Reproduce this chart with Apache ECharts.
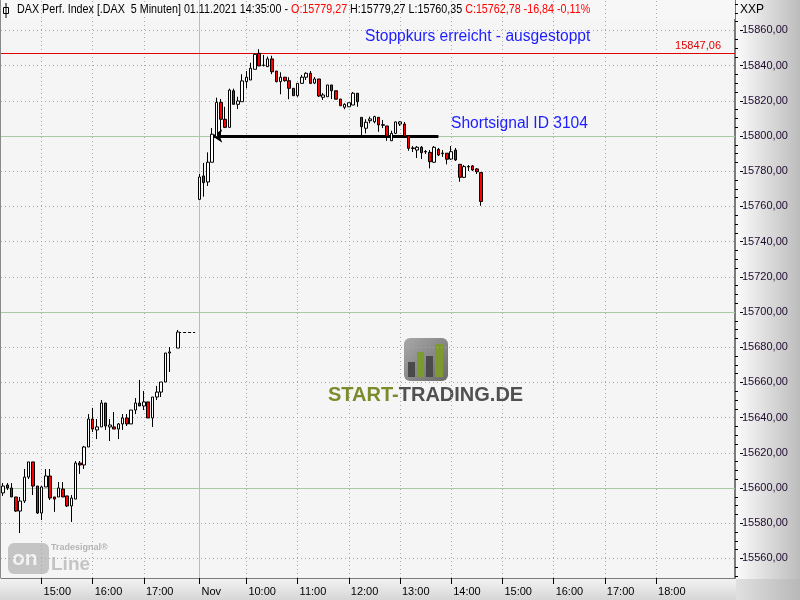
<!DOCTYPE html>
<html><head><meta charset="utf-8">
<script src="https://cdn.jsdelivr.net/npm/echarts@6/dist/echarts.min.js"></script>
<style>html,body{margin:0;padding:0;background:#f5f5f5}#c{width:800px;height:600px}</style>
</head><body><div id="c"></div>
<script>
// ---- sessions (5-minute bars, bar-end time labels) ----
const sessionDates = ['29.10', '01.11'];
const sessionFirstBar = ['14:15', '09:05'];
const sessionSlots = [46, 126];

// ---- candles [open, close, low, high] ----
const day1Candles = [
  [15597.2, 15601.1, 15595.5, 15602.8],
  [15601.7, 15600.0, 15598.9, 15602.8],
  [15600.0, 15594.9, 15594.9, 15602.8],
  [15594.9, 15586.9, 15586.4, 15594.9],
  [15586.9, 15592.6, 15574.4, 15594.9],
  [15592.6, 15606.2, 15591.5, 15610.8],
  [15606.2, 15614.8, 15605.1, 15614.8],
  [15614.8, 15601.1, 15596.0, 15614.8],
  [15601.1, 15585.8, 15585.2, 15601.1],
  [15585.8, 15600.6, 15581.8, 15601.1],
  [15600.6, 15606.8, 15600.6, 15610.8],
  [15606.8, 15594.3, 15593.2, 15610.8],
  [15594.9, 15593.7, 15586.4, 15594.9],
  [15594.9, 15600.0, 15594.9, 15603.4],
  [15599.4, 15594.9, 15594.9, 15603.4],
  [15595.5, 15589.8, 15589.2, 15595.5],
  [15589.8, 15594.3, 15580.7, 15596.0],
  [15593.7, 15614.2, 15593.7, 15615.3],
  [15614.2, 15613.1, 15608.0, 15615.3],
  [15613.1, 15623.3, 15610.8, 15623.9],
  [15623.3, 15639.2, 15623.3, 15642.0],
  [15639.2, 15633.5, 15631.8, 15645.5],
  [15633.0, 15634.7, 15627.8, 15639.2],
  [15634.7, 15648.3, 15634.7, 15650.0],
  [15648.3, 15635.2, 15633.0, 15648.3],
  [15634.7, 15635.8, 15626.7, 15639.2],
  [15634.7, 15633.5, 15633.5, 15643.2],
  [15633.5, 15636.4, 15627.8, 15636.9],
  [15636.4, 15639.8, 15633.0, 15642.0],
  [15639.8, 15636.4, 15635.2, 15642.0],
  [15636.4, 15644.3, 15636.4, 15644.3],
  [15644.3, 15648.3, 15642.0, 15651.1],
  [15648.3, 15646.6, 15646.6, 15661.4],
  [15646.6, 15648.9, 15644.3, 15655.1],
  [15648.9, 15639.8, 15639.8, 15648.9],
  [15639.8, 15651.7, 15634.7, 15651.7],
  [15651.7, 15654.5, 15650.0, 15658.0],
  [15654.5, 15660.2, 15651.7, 15660.2],
  [15660.2, 15676.7, 15660.2, 15676.7],
  [15676.7, 15677.3, 15665.9, 15680.1],
  '-',
  [15679.5, 15688.6, 15679.5, 15689.8]
];
const day2Candles = [
  [15764.0, 15776.7, 15763.6, 15778.4],
  [15777.3, 15773.5, 15765.5, 15784.7],
  [15773.9, 15785.1, 15771.6, 15790.7],
  [15785.1, 15801.0, 15785.1, 15804.5],
  [15799.6, 15819.1, 15799.6, 15821.8],
  [15819.1, 15809.5, 15799.6, 15821.0],
  [15809.5, 15804.9, 15804.5, 15816.6],
  [15804.9, 15826.1, 15804.9, 15826.9],
  [15825.7, 15818.0, 15818.0, 15826.9],
  [15818.0, 15819.9, 15815.3, 15822.3],
  [15819.5, 15831.3, 15819.5, 15835.1],
  [15830.9, 15833.4, 15827.1, 15836.9],
  [15831.8, 15838.5, 15831.8, 15841.6],
  [15837.9, 15846.4, 15837.9, 15847.0],
  [15847.0, 15839.8, 15839.8, 15849.3],
  [15840.1, 15840.3, 15839.5, 15846.0],
  [15839.4, 15843.8, 15839.4, 15845.1],
  [15843.8, 15836.5, 15835.1, 15845.6],
  [15836.9, 15830.9, 15830.5, 15836.9],
  [15830.9, 15833.4, 15823.7, 15836.2],
  [15833.4, 15831.4, 15830.9, 15833.4],
  [15831.4, 15827.1, 15820.9, 15833.4],
  [15827.1, 15822.9, 15822.9, 15827.1],
  [15822.9, 15829.9, 15822.3, 15829.9],
  [15829.9, 15833.4, 15829.9, 15834.7],
  [15833.4, 15835.6, 15831.8, 15836.2],
  [15835.6, 15829.9, 15829.5, 15836.9],
  [15830.1, 15832.4, 15829.5, 15833.5],
  [15832.4, 15822.7, 15822.2, 15832.4],
  [15822.0, 15823.3, 15820.5, 15824.4],
  [15822.3, 15829.0, 15822.3, 15829.0],
  [15829.0, 15825.7, 15821.0, 15829.0],
  [15825.7, 15820.9, 15820.9, 15825.7],
  [15821.0, 15817.2, 15817.2, 15821.0],
  [15816.3, 15818.0, 15815.2, 15818.6],
  [15816.6, 15818.9, 15816.6, 15818.9],
  [15817.6, 15824.3, 15817.6, 15825.0],
  [15824.3, 15819.5, 15816.6, 15824.3],
  [15810.6, 15805.3, 15800.0, 15810.6],
  [15804.4, 15807.8, 15801.5, 15809.5],
  [15808.7, 15809.7, 15807.2, 15811.0],
  [15808.1, 15811.0, 15807.2, 15811.5],
  [15810.6, 15806.3, 15802.4, 15810.6],
  [15806.4, 15806.1, 15804.5, 15809.1],
  [15805.7, 15800.0, 15797.2, 15805.7],
  [15797.3, 15801.5, 15797.2, 15803.0],
  [15801.5, 15808.0, 15801.1, 15808.1],
  [15806.8, 15808.0, 15805.7, 15808.5],
  [15806.8, 15800.0, 15800.0, 15808.0],
  [15800.0, 15793.0, 15791.6, 15800.0],
  [15793.2, 15792.9, 15790.9, 15794.3],
  [15792.0, 15793.6, 15787.5, 15794.3],
  [15793.6, 15790.5, 15786.9, 15794.3],
  [15791.2, 15790.9, 15789.8, 15792.0],
  [15790.7, 15785.4, 15781.6, 15792.0],
  [15785.1, 15793.6, 15784.7, 15794.3],
  [15792.4, 15789.2, 15788.6, 15793.2],
  [15790.3, 15790.0, 15788.1, 15792.0],
  [15790.2, 15786.8, 15783.9, 15790.2],
  [15786.9, 15791.1, 15786.4, 15794.3],
  [15792.0, 15786.4, 15785.8, 15793.2],
  [15783.9, 15776.5, 15774.0, 15783.9],
  [15776.5, 15782.6, 15776.1, 15783.5],
  [15782.7, 15782.4, 15780.1, 15783.5],
  [15783.0, 15780.7, 15780.1, 15783.5],
  [15781.3, 15779.7, 15778.4, 15781.8],
  [15779.27, 15762.78, 15760.35, 15779.27]
];

// ---- axis ticks / annotations ----
const yTicks = [15560, 15580, 15600, 15620, 15640, 15660, 15680, 15700, 15720, 15740, 15760, 15780, 15800, 15820, 15840, 15860];
const yGreenLines = [15600, 15700, 15800];
const xTickLabels = ['29.10 15:00', '29.10 16:00', '29.10 17:00', '01.11 09:05', '01.11 10:00', '01.11 11:00', '01.11 12:00',
  '01.11 13:00', '01.11 14:00', '01.11 15:00', '01.11 16:00', '01.11 17:00', '01.11 18:00'];
const dayStartTick = '01.11 09:05';
const dayStartText = 'Nov';
const stopLevel = 15847.06;
const signalLevel = 15800;
const signalFrom = '01.11 09:20';
const signalTo = '01.11 13:45';
const stopText = 'Stoppkurs erreicht - ausgestoppt';
const signalText = 'Shortsignal ID 3104';
const headerTitle = 'DAX Perf. Index [.DAX  5 Minuten] 01.11.2021 14:35:00 - ';
const headerChange = '-16,84 -0,11%';
const yMin = 15548.86, yMax = 15877.27;

// ---- build ----
function buildSession(date, first, n) {
  let [h, m] = first.split(':').map(Number);
  const out = [];
  for (let i = 0; i < n; i++) {
    out.push(date + ' ' + String(h).padStart(2, '0') + ':' + String(m).padStart(2, '0'));
    m += 5; if (m >= 60) { m -= 60; h++; }
  }
  return out;
}
let categories = [];
sessionDates.forEach((d, i) => { categories = categories.concat(buildSession(d, sessionFirstBar[i], sessionSlots[i])); });
function pad(arr, n) { const a = arr.slice(); while (a.length < n) a.push('-'); return a; }
const candles = pad(day1Candles, sessionSlots[0]).concat(pad(day2Candles, sessionSlots[1]));
const fmt = v => v.toFixed(2).replace('.', ',');
const lastDay1Idx = day1Candles.length - 1;
const day1Close = day1Candles[lastDay1Idx][1];
const last = day2Candles[day2Candles.length - 1];
const minorTicks = [];
for (let v = 15550; v <= 15875; v += 5) if (v % 20 !== 0) minorTicks.push(v);

const fontFam = 'Liberation Sans, Arial, sans-serif';
const dotted = { color: '#a8a8a8', width: 1, type: [1, 3] };
const green = { color: '#a9c9a4', width: 1, type: 'solid' };
const isTick = (idx) => xTickLabels.indexOf(categories[idx]) >= 0;

const chart = echarts.init(document.getElementById('c'), null, { renderer: 'canvas' });
chart.setOption({
  animation: false,
  backgroundColor: '#f5f5f5',
  grid: { left: 1, right: 65, top: 0, bottom: 22, containLabel: false, outerBoundsMode: 'none',
    show: true, backgroundColor: '#f5f5f5', borderWidth: 0 },
  xAxis: {
    type: 'category', data: categories, boundaryGap: true,
    axisLine: { show: true, lineStyle: { color: '#7a7a7a', width: 1 } },
    axisTick: { show: true, alignWithLabel: true, interval: (i) => isTick(i), length: 6, lineStyle: { color: '#000' } },
    axisLabel: { interval: (i) => isTick(i), align: 'left', margin: 8, padding: [0, 0, 0, 2],
      fontSize: 11, fontFamily: fontFam, color: '#000',
      formatter: (v) => v === dayStartTick ? dayStartText : v.slice(6) },
    splitLine: { show: false }
  },
  yAxis: [{
    type: 'value', position: 'right', min: yMin, max: yMax,
    axisLine: { show: true, lineStyle: { color: '#7a7a7a', width: 2 } },
    axisTick: { show: true, customValues: minorTicks, length: 3, lineStyle: { color: '#000' } },
    axisLabel: { show: false }, splitLine: { show: false }
  }, {
    type: 'value', position: 'right', offset: 5, min: yMin, max: yMax,
    axisLine: { show: false },
    axisTick: { show: true, customValues: yTicks, length: 3, lineStyle: { color: '#000' } },
    axisLabel: { customValues: yTicks, margin: 2, fontSize: 11, fontFamily: fontFam, color: '#1e0a30', formatter: fmt },
    splitLine: { show: false }
  }],
  series: [{
    type: 'line', data: [], z: 1, silent: true,
    markLine: {
      silent: true, symbol: ['none', 'none'], label: { show: false }, animation: false,
      data: [
        ...yTicks.filter(v => yGreenLines.indexOf(v) < 0).map(v => ({ yAxis: v, lineStyle: dotted })),
        ...yGreenLines.map(v => ({ yAxis: v, lineStyle: green })),
        ...xTickLabels.filter(n => n !== dayStartTick).map(n => ({ xAxis: n, lineStyle: dotted }))
      ]
    }
  }, {
    type: 'candlestick', data: candles, z: 5, barWidth: 3, silent: true,
    itemStyle: { color: '#ffffff', color0: '#ff0000', borderColor: '#000000', borderColor0: '#000000', borderWidth: 1 },
    markLine: {
      silent: true, symbol: ['none', 'none'], label: { show: false }, animation: false,
      data: [
        { xAxis: dayStartTick, lineStyle: green },
        { yAxis: stopLevel, lineStyle: { color: '#e00000', width: 1, type: 'solid' },
          label: { show: true, position: 'insideEndTop', formatter: fmt(stopLevel), color: '#e00000',
            fontSize: 11, fontFamily: fontFam, distance: 2, padding: [0, 12, 0, 0] } },
        [{ coord: [signalFrom, signalLevel], symbol: 'arrow', symbolSize: 10,
           lineStyle: { color: '#000', width: 3, type: 'solid' } },
         { coord: [signalTo, signalLevel], symbol: 'none' }],
        [{ coord: [categories[lastDay1Idx], day1Close], lineStyle: { color: '#000', width: 1, type: [3, 2] } },
         { coord: [categories[sessionSlots[0] - 1], day1Close] }]
      ]
    }
  }],
  graphic: [
    { type: 'rect', shape: { x: 736, y: 0, width: 64, height: 579 }, z: -10,
      style: { fill: new echarts.graphic.LinearGradient(0, 0, 1, 0, [{ offset: 0, color: '#fbfbfb' }, { offset: 1, color: '#bcbcbc' }]) } },
    { type: 'rect', shape: { x: 0, y: 579, width: 736, height: 21 }, z: -10,
      style: { fill: new echarts.graphic.LinearGradient(0, 0, 0, 1, [{ offset: 0, color: '#f2f2f2' }, { offset: 1, color: '#d6d6d6' }]) } },
    { type: 'rect', shape: { x: 736, y: 579, width: 64, height: 21 }, z: -10,
      style: { fill: new echarts.graphic.LinearGradient(0, 0, 1, 0, [{ offset: 0, color: '#e0e0e0' }, { offset: 1, color: '#b8b8b8' }]) } },
    { type: 'line', shape: { x1: 0.5, y1: 0, x2: 0.5, y2: 578 }, z: 20, style: { stroke: '#8a8a8a', lineWidth: 1 } },
    { type: 'rect', shape: { x: 1, y: 0, width: 734, height: 19 }, z: 3, style: { fill: '#f7f7f7' } },
    { type: 'rect', shape: { x: 3.5, y: 7.5, width: 5, height: 6 }, z: 30, style: { fill: '#fff', stroke: '#000', lineWidth: 1 } },
    { type: 'line', shape: { x1: 6, y1: 3, x2: 6, y2: 18 }, z: 30, style: { stroke: '#000', lineWidth: 1 } },
    { type: 'text', x: 17, y: 3, z: 30, scaleX: 0.825, style: {
        text: '{k|' + headerTitle + '}{r|O:' + fmt(last[0]) + '}{k| H:' + fmt(last[3]) + ' L:' + fmt(last[2]) + ' }{r|C:' + fmt(last[1]) + ' ' + headerChange + '}',
        font: '13px ' + fontFam,
        rich: { k: { fill: '#000', fontSize: 13, fontFamily: fontFam }, r: { fill: '#ff0000', fontSize: 13, fontFamily: fontFam } } } },
    { type: 'text', x: 740, y: 4, z: 30, style: { text: 'XXP', font: '12px ' + fontFam, fill: '#000' } },
    { type: 'text', x: 365, y: 29, z: 30, style: { text: stopText, font: '15.6px ' + fontFam, fill: '#1c1cff' } },
    { type: 'text', x: 451, y: 116, z: 30, style: { text: signalText, font: '15.6px ' + fontFam, fill: '#1c1cff' } },
    // START-TRADING.DE watermark
    { type: 'group', z: 0, children: [
      { type: 'rect', shape: { x: 404, y: 338, width: 44, height: 43, r: 6 }, z: 0,
        style: { fill: new echarts.graphic.LinearGradient(0, 0, 1, 1, [{ offset: 0, color: '#a8a8a8' }, { offset: 1, color: '#6a6a6a' }]) } },
      { type: 'rect', shape: { x: 408, y: 362, width: 7, height: 15 }, z: 1, style: { fill: '#4a4a4a' } },
      { type: 'rect', shape: { x: 417, y: 352, width: 7, height: 25 }, z: 1, style: { fill: '#7d9a2e' } },
      { type: 'rect', shape: { x: 426, y: 356, width: 7, height: 21 }, z: 1, style: { fill: '#4a4a4a' } },
      { type: 'rect', shape: { x: 435, y: 344, width: 8, height: 33 }, z: 1, style: { fill: '#7d9a2e' } },
      { type: 'text', x: 328, y: 385, z: 1, style: {
          text: '{g|START-}{d|TRADING.DE}', font: 'bold 20px ' + fontFam,
          rich: { g: { fill: '#7b8b2c', fontSize: 20, fontWeight: 'bold', fontFamily: fontFam },
                  d: { fill: '#505050', fontSize: 20, fontWeight: 'bold', fontFamily: fontFam } } } }
    ] },
    // Tradesignal online watermark
    { type: 'group', z: 0, children: [
      { type: 'rect', shape: { x: 8, y: 543, width: 41, height: 31, r: 6 }, style: { fill: '#c4c4c4' } },
      { type: 'text', x: 12, y: 549, style: { text: 'on', font: 'bold 21px ' + fontFam, fill: '#f2f2f2' } },
      { type: 'text', x: 51, y: 555, style: { text: 'Line', font: 'bold 19px ' + fontFam, fill: '#c4c4c4' } },
      { type: 'text', x: 51, y: 543, style: { text: 'Tradesignal®', font: 'bold 9px ' + fontFam, fill: '#b4b4b4' } }
    ] }
  ]
});
</script></body></html>
